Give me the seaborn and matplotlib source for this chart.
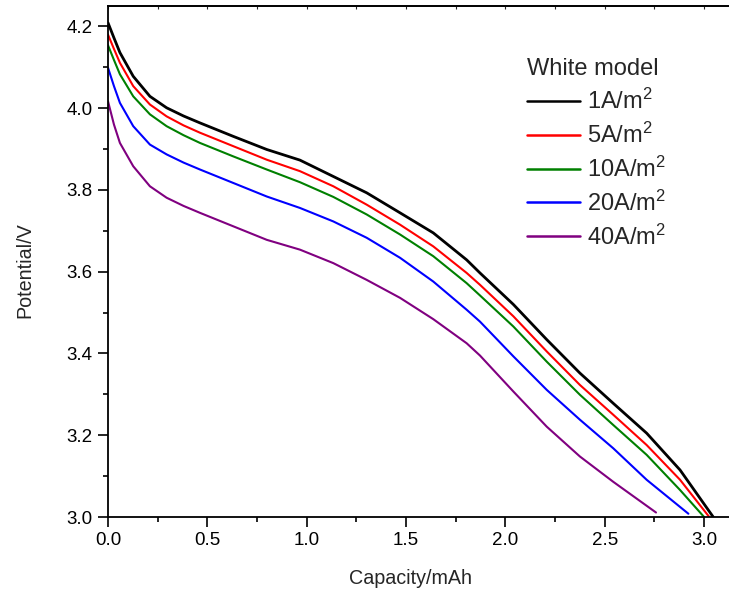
import numpy as np
import pandas as pd
import matplotlib
matplotlib.use("Agg")
import matplotlib.pyplot as plt
import seaborn as sns
from matplotlib.ticker import MultipleLocator, FormatStrFormatter

# ---- data ----
x_1 = [0, 0.03, 0.06, 0.127, 0.211, 0.295, 0.38, 0.463, 0.631, 0.799, 0.966, 1.134, 1.302, 1.470, 1.637,
       1.805, 1.872, 2.040, 2.208, 2.375, 2.543, 2.711, 2.879, 3.046]
y_1 = [4.209, 4.172, 4.136, 4.078, 4.029, 4.001, 3.981, 3.964, 3.931, 3.899, 3.873, 3.833, 3.793, 3.744, 3.695,
       3.629, 3.597, 3.520, 3.434, 3.352, 3.278, 3.205, 3.115, 3.000]

x_5 = [0, 0.03, 0.06, 0.127, 0.211, 0.295, 0.38, 0.463, 0.631, 0.799, 0.966, 1.134, 1.302, 1.470, 1.637,
       1.805, 1.872, 2.040, 2.208, 2.375, 2.543, 2.711, 2.879, 3.026]
y_5 = [4.180, 4.145, 4.111, 4.054, 4.009, 3.980, 3.958, 3.940, 3.907, 3.874, 3.846, 3.809, 3.764, 3.715, 3.662,
       3.597, 3.568, 3.491, 3.405, 3.323, 3.250, 3.176, 3.091, 3.000]

x_10 = [0, 0.03, 0.06, 0.127, 0.211, 0.295, 0.38, 0.463, 0.631, 0.799, 0.966, 1.134, 1.302, 1.470, 1.637,
        1.805, 1.872, 2.040, 2.208, 2.375, 2.543, 2.711, 2.879, 3.000]
y_10 = [4.154, 4.118, 4.083, 4.029, 3.985, 3.956, 3.934, 3.915, 3.882, 3.850, 3.819, 3.783, 3.740, 3.691, 3.638,
        3.572, 3.542, 3.466, 3.380, 3.299, 3.225, 3.152, 3.066, 3.000]

x_20 = [0, 0.03, 0.06, 0.127, 0.211, 0.295, 0.38, 0.463, 0.631, 0.799, 0.966, 1.134, 1.302, 1.470, 1.637,
        1.805, 1.872, 2.040, 2.208, 2.375, 2.543, 2.711, 2.921]
y_20 = [4.099, 4.054, 4.013, 3.956, 3.911, 3.887, 3.867, 3.850, 3.817, 3.784, 3.756, 3.723, 3.683, 3.634, 3.576,
        3.507, 3.478, 3.393, 3.311, 3.238, 3.168, 3.091, 3.008]

x_40 = [0, 0.03, 0.06, 0.127, 0.211, 0.295, 0.38, 0.463, 0.631, 0.799, 0.966, 1.134, 1.302, 1.470, 1.637,
        1.805, 1.872, 2.040, 2.208, 2.375, 2.543, 2.758]
y_40 = [4.017, 3.960, 3.915, 3.858, 3.809, 3.781, 3.761, 3.744, 3.711, 3.678, 3.654, 3.621, 3.580, 3.536, 3.484,
        3.425, 3.395, 3.307, 3.221, 3.148, 3.086, 3.011]

series_labels = ["1A/m$^2$", "5A/m$^2$", "10A/m$^2$", "20A/m$^2$", "40A/m$^2$"]
legend_title = "White model"
x_label = "Capacity/mAh"
y_label = "Potential/V"

# ---- style ----
sns.set_style("ticks")
plt.rcParams["font.family"] = ["Liberation Sans", "DejaVu Sans"]
plt.rcParams["mathtext.fontset"] = "custom"
plt.rcParams["mathtext.rm"] = "Liberation Sans"
plt.rcParams["mathtext.it"] = "Liberation Sans:italic"
plt.rcParams["mathtext.default"] = "regular"

colors = ["#000000", "#FF0000", "#008000", "#0000FF", "#800080"]
widths = [2.0, 1.5, 1.5, 1.5, 1.5]

W, H = 729, 593
fig = plt.figure(figsize=(W / 100, H / 100), dpi=100)
px_per_unit = 198.7
ax_left_px, ax_right_px = 108, 760
x0, x1 = 0.0, (ax_right_px - ax_left_px) / px_per_unit
ax_bottom_px, ax_top_px = 517, 6
ax = fig.add_axes([ax_left_px / W, 1 - ax_bottom_px / H,
                   (ax_right_px - ax_left_px) / W, (ax_bottom_px - ax_top_px) / H])

data = [(x_1, y_1), (x_5, y_5), (x_10, y_10), (x_20, y_20), (x_40, y_40)]
for (xs, ys), lab, c, lw in zip(data, series_labels, colors, widths):
    df = pd.DataFrame({"Capacity": xs, "Potential": ys})
    sns.lineplot(data=df, x="Capacity", y="Potential", ax=ax, color=c, linewidth=lw,
                 label=lab, sort=False, estimator=None)

ax.set_xlim(x0, x1)
ax.set_ylim(3.0, 4.25)
ax.xaxis.set_major_locator(MultipleLocator(0.5))
ax.xaxis.set_minor_locator(MultipleLocator(0.25))
ax.yaxis.set_major_locator(MultipleLocator(0.2))
ax.yaxis.set_minor_locator(MultipleLocator(0.1))
ax.xaxis.set_major_formatter(FormatStrFormatter("%.1f"))
ax.yaxis.set_major_formatter(FormatStrFormatter("%.1f"))

for side in ["left", "bottom", "top"]:
    ax.spines[side].set_visible(True)
    ax.spines[side].set_linewidth(1.3)
    ax.spines[side].set_color("black")
ax.spines["right"].set_visible(False)

ax.tick_params(axis="both", which="major", direction="out", length=7, width=1.2,
               labelsize=13.5, pad=4, colors="black")
ax.tick_params(axis="both", which="minor", direction="out", length=3.5, width=1.2, colors="black")
ax.tick_params(top=False, right=False, which="both")

# tiny inward ticks on the top frame line
sec = ax.secondary_xaxis("top")
sec.xaxis.set_major_locator(MultipleLocator(0.25))
sec.tick_params(axis="x", which="major", direction="in", length=2.5, width=0.8,
                labeltop=False, labelbottom=False)
for side in ["left", "right", "bottom"]:
    sec.spines[side].set_visible(False)
sec.spines["top"].set_linewidth(1.3)

ax.set_xlabel(x_label, fontsize=14.2)
ax.set_ylabel(y_label, fontsize=14.2)
ax.xaxis.set_label_coords((410 - ax_left_px) / (ax_right_px - ax_left_px),
                          -(578 - ax_bottom_px) / (ax_bottom_px - ax_top_px), transform=ax.transAxes)
ax.yaxis.set_label_coords(-(ax_left_px - 25) / (ax_right_px - ax_left_px),
                          (ax_bottom_px - 270) / (ax_bottom_px - ax_top_px), transform=ax.transAxes)
ax.xaxis.label.set_va("center")
ax.yaxis.label.set_va("center")

leg = ax.legend(title=legend_title, loc="upper left",
                bbox_to_anchor=(527 / W, 1 - 58 / H), bbox_transform=fig.transFigure,
                frameon=False, fontsize=17, title_fontsize=17, handlelength=2.25,
                handletextpad=0.3, labelspacing=0.37, borderpad=0, borderaxespad=0,
                alignment="left")
for line in leg.get_lines():
    line.set_linewidth(1.8)

fig.savefig("out.png", dpi=100)
